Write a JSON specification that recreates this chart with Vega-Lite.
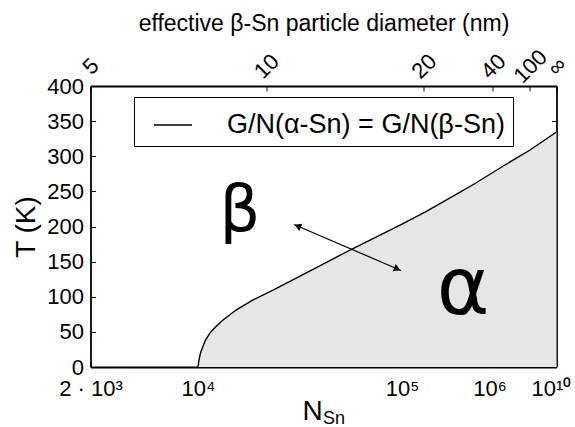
{
  "$schema": "https://vega.github.io/schema/vega-lite/v6.json",
  "width": 466,
  "height": 281,
  "autosize": {"type": "none"},
  "padding": {"left": 90.5, "top": 86, "right": 18.5, "bottom": 60},
  "background": "white",
  "config": {
    "font": "Liberation Sans",
    "view": {"stroke": null},
    "axis": {
      "grid": false,
      "domainColor": "black",
      "domainWidth": 1.8,
      "tickColor": "black",
      "tickWidth": 1,
      "tickSize": -5,
      "labelColor": "black",
      "titleColor": "black",
      "titleFontWeight": "normal",
      "labelFont": "Liberation Sans",
      "titleFont": "Liberation Sans",
      "labelOverlap": false,
      "labelFlush": false,
      "labelBound": false
    }
  },
  "datasets": {
    "curve": [
      {"N": 10000, "T": 0},
      {"N": 10113, "T": 10.0},
      {"N": 10286, "T": 19.9},
      {"N": 10545, "T": 28.5},
      {"N": 10883, "T": 38.4},
      {"N": 11451, "T": 48.4},
      {"N": 12186, "T": 56.9},
      {"N": 13264, "T": 66.9},
      {"N": 15358, "T": 81.1},
      {"N": 18606, "T": 95.4},
      {"N": 23321, "T": 109.6},
      {"N": 31623, "T": 129.5},
      {"N": 41942, "T": 148.0},
      {"N": 55611, "T": 166.5},
      {"N": 73740, "T": 184.3},
      {"N": 97770, "T": 202.1},
      {"N": 183200, "T": 220.6},
      {"N": 353700, "T": 240.6},
      {"N": 682900, "T": 261.2},
      {"N": 4819000, "T": 283.3},
      {"N": 430600000, "T": 308.9},
      {"N": 100000000000, "T": 334.5}
    ],
    "arrow": [{"N": 29550, "T": 202.8, "N2": 98880, "T2": 137.4}],
    "heads": [
      {"N": 30810, "T": 200.6, "end": "start"},
      {"N": 94840, "T": 139.6, "end": "end"}
    ],
    "phases": [
      {"N": 16068, "T": 220.6, "label": "β"},
      {"N": 497900, "T": 109.6, "label": "α"}
    ],
    "sub": [{"N": 46416, "T": -74.5, "label": "Sn"}]
  },
  "layer": [
    {
      "data": {"name": "curve"},
      "mark": {"type": "area", "color": "#e6e6e6"},
      "encoding": {
        "x": {
          "field": "N", "type": "quantitative",
          "scale": {"type": "log", "domain": [2000, 10000, 100000, 1000000, 10000000000, 100000000000], "range": [0, 107.5, 311.5, 399, 460.5, 466], "nice": false},
          "axis": {
            "orient": "bottom",
            "values": [2000, 10000, 100000, 1000000, 10000000000],
            "labelExpr": "datum.value < 5000 ? '2 · 10³' : datum.value < 50000 ? '10⁴' : datum.value < 500000 ? '10⁵' : datum.value < 50000000 ? '10⁶' : '10¹⁰'",
            "labelFontSize": 22,
            "labelPadding": 16,
            "labelBaseline": "top",
            "title": "N",
            "titleFontSize": 28,
            "titleX": 221.5,
            "titleY": 44,
            "titleAlign": "center",
            "titleBaseline": "middle"
          }
        },
        "y": {
          "field": "T", "type": "quantitative",
          "scale": {"domain": [0, 400], "nice": false},
          "axis": {
            "orient": "left",
            "values": [0, 50, 100, 150, 200, 250, 300, 350, 400],
            "labelFontSize": 22,
            "labelPadding": 12,
            "title": "T (K)",
            "titleFontSize": 28,
            "titleX": -64,
            "titleY": 140.5,
            "titleAlign": "center",
            "titleBaseline": "middle"
          }
        },
        "y2": {"datum": 0}
      }
    },
    {
      "data": {"name": "curve"},
      "mark": {"type": "line", "strokeWidth": 1.4},
      "encoding": {
        "x": {
          "field": "N", "type": "quantitative",
          "scale": {"type": "log", "domain": [2000, 10000, 100000, 1000000, 10000000000, 100000000000], "range": [0, 107.5, 311.5, 399, 460.5, 466], "nice": false},
          "axis": {
            "orient": "top",
            "values": [2000, 21600, 177000, 1689000, 430600000, 100000000000],
            "labelExpr": "datum.value < 5000 ? '5' : datum.value < 50000 ? '10' : datum.value < 500000 ? '20' : datum.value < 5000000 ? '40' : datum.value < 50000000000 ? '100' : '∞'",
            "labelFontSize": 22,
            "labelAngle": -45,
            "labelAlign": "center",
            "labelBaseline": "middle",
            "labelPadding": 25,
            "title": "effective β-Sn particle diameter (nm)",
            "titleFontSize": 23,
            "titleX": 233,
            "titleY": -63,
            "titleAlign": "center",
            "titleBaseline": "middle"
          }
        },
        "y": {
          "field": "T", "type": "quantitative",
          "scale": {"domain": [0, 400], "nice": false},
          "axis": {
            "orient": "right",
            "values": [0, 50, 100, 150, 200, 250, 300, 350, 400],
            "labels": false,
            "title": null
          }
        },
        "color": {
          "datum": "G/N(α-Sn) = G/N(β-Sn)",
          "type": "nominal",
          "scale": {"range": ["black"]},
          "legend": {
            "orient": "none",
            "legendX": 43.5,
            "legendY": 11,
            "title": null,
            "strokeColor": "black",
            "fillColor": "white",
            "padding": 8,
            "symbolType": "stroke",
            "symbolStrokeColor": "black",
            "symbolStrokeWidth": 1.3,
            "symbolSize": 1444,
            "symbolOffset": 11,
            "labelOffset": 34,
            "labelFontSize": 27,
            "labelLimit": 600,
            "labelFont": "Liberation Sans",
            "labelColor": "black"
          }
        }
      }
    },
    {
      "data": {"name": "arrow"},
      "mark": {"type": "rule", "color": "black", "strokeWidth": 1.2},
      "encoding": {
        "x": {"field": "N", "type": "quantitative", "axis": null, "scale": {"type": "log", "domain": [2000, 10000, 100000, 1000000, 10000000000, 100000000000], "range": [0, 107.5, 311.5, 399, 460.5, 466], "nice": false}},
        "y": {"field": "T", "type": "quantitative", "axis": null, "scale": {"domain": [0, 400], "nice": false}},
        "x2": {"field": "N2"},
        "y2": {"field": "T2"}
      }
    },
    {
      "data": {"name": "heads"},
      "mark": {"type": "point", "filled": true, "color": "black", "opacity": 1, "size": 60, "angle": 23},
      "encoding": {
        "x": {"field": "N", "type": "quantitative", "axis": null, "scale": {"type": "log", "domain": [2000, 10000, 100000, 1000000, 10000000000, 100000000000], "range": [0, 107.5, 311.5, 399, 460.5, 466], "nice": false}},
        "y": {"field": "T", "type": "quantitative", "axis": null, "scale": {"domain": [0, 400], "nice": false}},
        "shape": {"field": "end", "type": "nominal", "scale": {"domain": ["start", "end"], "range": ["triangle-left", "triangle-right"]}, "legend": null}
      }
    },
    {
      "data": {"name": "phases"},
      "transform": [{"filter": "datum.label == 'β'"}],
      "mark": {"type": "text", "font": "DejaVu Sans", "fontSize": 64, "color": "black", "align": "center", "baseline": "middle"},
      "encoding": {
        "x": {"field": "N", "type": "quantitative", "axis": null, "scale": {"type": "log", "domain": [2000, 10000, 100000, 1000000, 10000000000, 100000000000], "range": [0, 107.5, 311.5, 399, 460.5, 466], "nice": false}},
        "y": {"field": "T", "type": "quantitative", "axis": null, "scale": {"domain": [0, 400], "nice": false}},
        "text": {"field": "label"}
      }
    },
    {
      "data": {"name": "phases"},
      "transform": [{"filter": "datum.label == 'α'"}],
      "mark": {"type": "text", "font": "DejaVu Sans", "fontSize": 80, "color": "black", "align": "center", "baseline": "middle"},
      "encoding": {
        "x": {"field": "N", "type": "quantitative", "axis": null, "scale": {"type": "log", "domain": [2000, 10000, 100000, 1000000, 10000000000, 100000000000], "range": [0, 107.5, 311.5, 399, 460.5, 466], "nice": false}},
        "y": {"field": "T", "type": "quantitative", "axis": null, "scale": {"domain": [0, 400], "nice": false}},
        "text": {"field": "label"}
      }
    },
    {
      "data": {"name": "sub"},
      "mark": {"type": "text", "fontSize": 18, "color": "black", "align": "center", "baseline": "middle"},
      "encoding": {
        "x": {"field": "N", "type": "quantitative", "axis": null, "scale": {"type": "log", "domain": [2000, 10000, 100000, 1000000, 10000000000, 100000000000], "range": [0, 107.5, 311.5, 399, 460.5, 466], "nice": false}},
        "y": {"field": "T", "type": "quantitative", "axis": null, "scale": {"domain": [0, 400], "nice": false}},
        "text": {"field": "label"}
      }
    }
  ],
  "resolve": {"axis": {"x": "independent", "y": "independent"}}
}
